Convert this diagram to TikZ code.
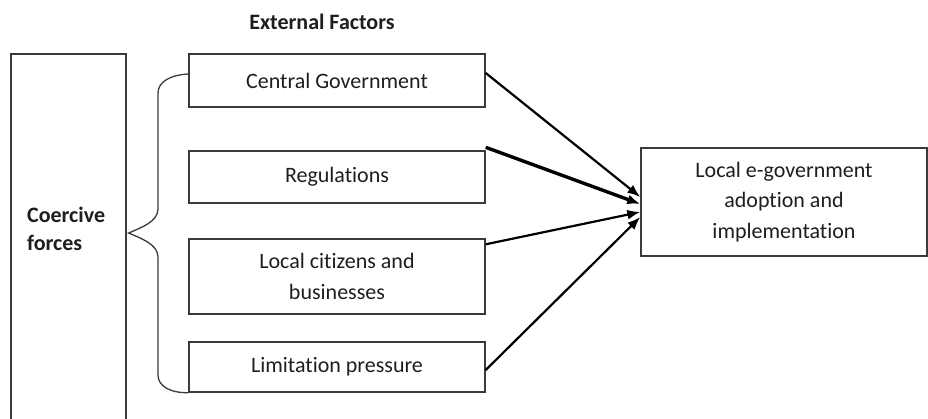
\documentclass[tikz,border=0pt]{standalone}
\usepackage{fontspec}
\setmainfont{Carlito}[Ligatures={NoCommon}]
\usetikzlibrary{arrows.meta,calc}
\definecolor{boxline}{HTML}{3A3A3A}
\definecolor{txt}{HTML}{1E1E1E}
\begin{document}
\begin{tikzpicture}[x=1pt,y=-1pt,
  factor/.style={draw=boxline,line width=1.4pt,minimum width=296pt,inner sep=0pt,
    font=\fontsize{22}{31}\selectfont,text=txt,align=center},
  arr/.style={line width=2.2pt,-{Latex[length=13pt,width=10pt]}},
  brace/.style={draw=boxline,line width=1.3pt}]
\useasboundingbox (0,0) rectangle (928,418);
\node[font=\bfseries\fontsize{22}{26}\selectfont,text=txt] (title) at (322,22) {External Factors};
\node[draw=boxline,line width=1.4pt,minimum width=115pt,minimum height=380pt,inner sep=0pt] (cbox) at (68.5,244) {};
\node[font=\bfseries\fontsize{22}{28}\selectfont,text=txt,align=left,anchor=west,inner sep=0pt] (ctext) at (27,229) {Coercive\\forces};
\node[factor,minimum height=53pt] (cg) at (337,80.5) {Central Government};
\node[factor,minimum height=52pt] (reg) at (337,177) {Regulations};
\node[factor,minimum height=75pt] (lc) at (337,276.5) {Local citizens and\\businesses};
\node[factor,minimum height=50pt] (lp) at (337,367) {Limitation pressure};
\node[draw=boxline,line width=1.4pt,minimum width=286pt,minimum height=108pt,inner sep=0pt,
  font=\fontsize{22}{30.5}\selectfont,text=txt,align=center] (out) at (784,202) {Local e-government\\adoption and\\implementation};
% brace
\coordinate (b1) at ([yshift=6.5pt]cg.west);
\coordinate (b2) at (lp.south west);
\coordinate (tip) at ([xshift=2pt]cbox.east |- 0,233);
\draw[brace] (b1) .. controls (170,75) and (158,82) .. (158,93)
  -- (158,209) .. controls (158,222) and (140,228) .. (tip)
  .. controls (140,238) and (158,244) .. (158,257)
  -- (158,375) .. controls (158,386) and (170,393) .. (b2);
% arrows
\draw[arr] ([yshift=7.5pt]cg.east) -- ([yshift=5pt]out.west);
\draw[arr,line width=3.4pt] ([yshift=3pt]reg.north east) -- ([yshift=-2pt]out.west);
\draw[arr] ([yshift=-6pt]lc.north east) -- ([yshift=-10pt]out.west);
\draw[arr] ([yshift=-3pt]lp.east) -- ([yshift=-15pt]out.west);
\end{tikzpicture}
\end{document}
